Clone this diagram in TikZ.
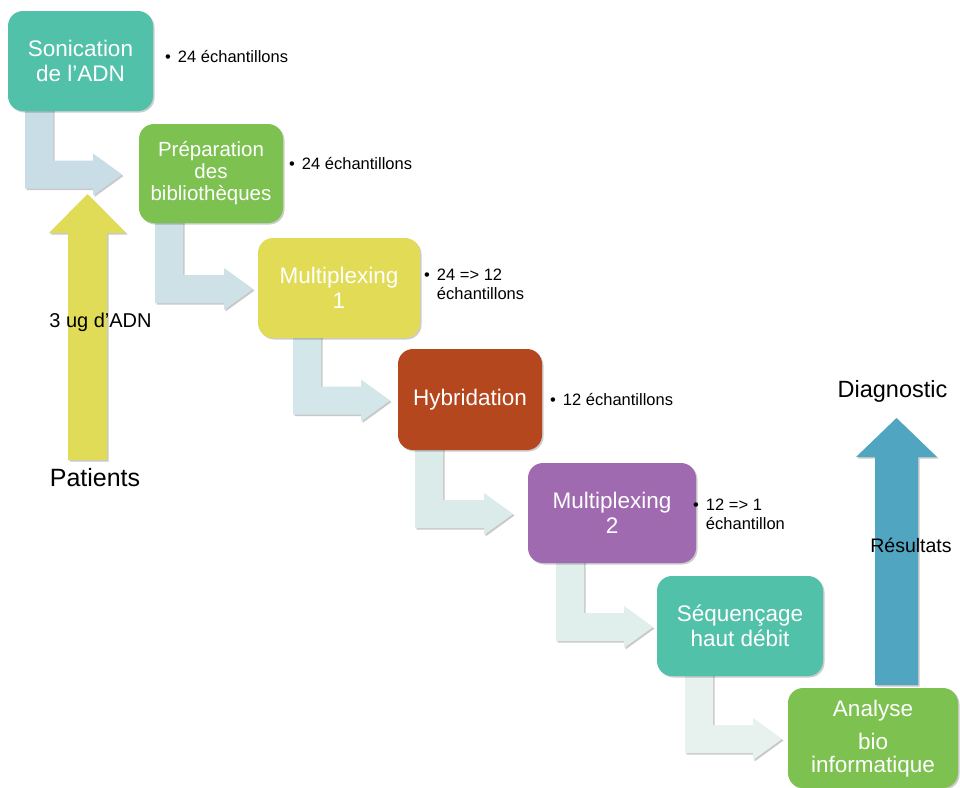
\documentclass[tikz,border=0pt]{standalone}
\usepackage{fontspec}
\setmainfont{Liberation Sans}
\usetikzlibrary{shadows,calc}
\definecolor{cteal}{HTML}{52C1A9}
\definecolor{cgreen}{HTML}{7DC250}
\definecolor{cyellow}{HTML}{E1DB55}
\definecolor{chyb}{HTML}{B5471F}
\definecolor{cpurple}{HTML}{A06AB0}
\definecolor{cblue}{HTML}{50A5C0}
\definecolor{cyarrow}{HTML}{E0DC57}
\definecolor{ca1}{HTML}{C8DDE5}
\definecolor{ca2}{HTML}{CDE1E7}
\definecolor{ca3}{HTML}{D3E6E9}
\definecolor{ca4}{HTML}{DAEBEA}
\definecolor{ca5}{HTML}{E1EFEC}
\definecolor{ca6}{HTML}{E7F2EF}
\tikzset{
  box/.style={rounded corners=15pt, fill=#1, text=white, align=center, inner sep=0pt,
    font=\fontsize{22.5pt}{25pt}\selectfont,
    drop shadow={shadow xshift=1.5pt, shadow yshift=-1.5pt, opacity=0.2, fill=black}},
  arrowshadow/.style={drop shadow={shadow xshift=1.5pt, shadow yshift=-1.5pt, opacity=0.3, fill=black!70}},
  lbl/.style={inner sep=0pt, align=left, text=black, font=\fontsize{16.5pt}{19pt}\selectfont},
  big/.style={inner sep=0pt, text=black}
}
\newcommand\bentarrow[5]{%
  \path[fill=#3, arrowshadow] let \p1=(#1.south), \p2=(#2.center) in
    (#4pt, \y1+3pt) -- (#4pt+28pt, \y1+3pt) -- (#4pt+28pt, \y2-1pt+14pt)
    -- (#5pt-29pt, \y2-1pt+14pt) -- (#5pt-29pt, \y2-1pt+21pt) -- (#5pt, \y2-1pt)
    -- (#5pt-29pt, \y2-1pt-21pt) -- (#5pt-29pt, \y2-1pt-14pt) -- (#4pt, \y2-1pt-14pt) -- cycle;}
\begin{document}
\begin{tikzpicture}[x=1pt,y=-1pt]
\useasboundingbox (0,0) rectangle (960,787);
\path (80.5,61) coordinate (c1) (211,173.5) coordinate (c2) (339,288) coordinate (c3)
      (470,399.5) coordinate (c4) (612,513) coordinate (c5) (740,626) coordinate (c6)
      (873,738) coordinate (c7);
% big arrows
\path[fill=cyarrow, arrowshadow] (68,460) -- (68,233) -- (49,233) -- (87.5,194) -- (126,233) -- (107,233) -- (107,460) -- cycle;
\path[fill=cblue, arrowshadow] (875,685) -- (875,457) -- (856,457) -- (896.5,418) -- (937,457) -- (918,457) -- (918,685) -- cycle;
% invisible node frames for the arrows' anchors
\node[minimum width=145pt, minimum height=100pt, inner sep=0pt] (f1) at (c1) {};
\node[minimum width=144pt, minimum height=99pt, inner sep=0pt] (f2) at (c2) {};
\node[minimum width=162pt, minimum height=100pt, inner sep=0pt] (f3) at (c3) {};
\node[minimum width=144pt, minimum height=101pt, inner sep=0pt] (f4) at (c4) {};
\node[minimum width=168pt, minimum height=100pt, inner sep=0pt] (f5) at (c5) {};
\node[minimum width=166pt, minimum height=100pt, inner sep=0pt] (f6) at (c6) {};
\node[minimum width=170pt, minimum height=100pt, inner sep=0pt] (f7) at (c7) {};
% bent arrows
\bentarrow{f1}{f2}{ca1}{25}{122}
\bentarrow{f2}{f3}{ca2}{155}{253}
\bentarrow{f3}{f4}{ca3}{293}{390}
\bentarrow{f4}{f5}{ca4}{415}{513}
\bentarrow{f5}{f6}{ca5}{556}{653}
\bentarrow{f6}{f7}{ca6}{685}{782}
% boxes
\node[box=cteal, minimum width=145pt, minimum height=100pt] (b1) at (c1) {Sonication\\de l’ADN};
\node[box=cgreen, minimum width=144pt, minimum height=99pt, font=\fontsize{20.5pt}{22pt}\selectfont] (b2) at (c2)
  {\raisebox{-6pt}[0pt][0pt]{\begin{tabular}{@{}c@{}}Préparation\\des\\bibliothèques\end{tabular}}};
\node[box=cyellow, minimum width=162pt, minimum height=100pt] (b3) at (c3) {Multiplexing\\1};
\node[box=chyb, minimum width=144pt, minimum height=101pt] (b4) at (c4) {Hybridation};
\node[box=cpurple, minimum width=168pt, minimum height=100pt] (b5) at (c5) {Multiplexing\\2};
\node[box=cteal, minimum width=166pt, minimum height=100pt] (b6) at (c6) {Séquençage\\haut débit};
\node[box=cgreen, minimum width=170pt, minimum height=100pt, font=\fontsize{22.5pt}{23pt}\selectfont] (b7) at (c7)
  {\raisebox{-7pt}[0pt][0pt]{\begin{tabular}{@{}c@{}}Analyse\\[9pt]bio\\informatique\end{tabular}}};
% side labels
\node[lbl, anchor=west] (l1) at (165,57) {•\hspace{7pt}24 échantillons};
\node[lbl, anchor=west] (l2) at (289,164) {•\hspace{7pt}24 échantillons};
\node[lbl, anchor=west] (l3) at (424,284) {•\hspace{7pt}24 => 12\\\hphantom{•\hspace{7pt}}échantillons};
\node[lbl, anchor=west] (l4) at (550,399) {•\hspace{7pt}12 échantillons};
\node[lbl, anchor=west] (l5) at (693,514.5) {•\hspace{7pt}12 => 1\\\hphantom{•\hspace{7pt}}échantillon};
% big labels
\node[big, font=\fontsize{20pt}{24pt}\selectfont] (adn) at (100.5,322) {3 ug d’ADN};
\node[big, font=\fontsize{25pt}{30pt}\selectfont] (pat) at (95,478) {Patients};
\node[big, font=\fontsize{23.5pt}{28pt}\selectfont] (diag) at (892.5,391) {Diagnostic};
\node[big, font=\fontsize{19.5pt}{24pt}\selectfont] (res) at (911,545) {Résultats};
\end{tikzpicture}
\end{document}
